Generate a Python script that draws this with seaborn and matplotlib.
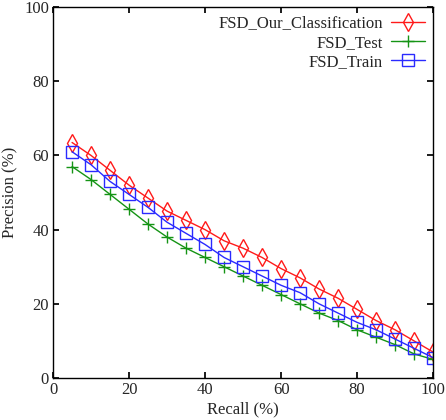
import matplotlib
matplotlib.use("Agg")
import matplotlib.pyplot as plt
import pandas as pd
import seaborn as sns

recall = [5, 10, 15, 20, 25, 30, 35, 40, 45, 50, 55, 60, 65, 70, 75, 80, 85, 90, 95, 100]
our_classification = [63.5, 60, 56, 52, 48.5, 45, 42.5, 40, 37, 35, 32.5, 29.5, 27, 24, 21.5, 18.5, 15.5, 13, 10, 7]
fsd_test = [57, 53.5, 49.5, 45.5, 41.5, 38, 35, 32.5, 30, 27.5, 25, 22.5, 20, 17.5, 15.5, 13, 11, 9, 6.5, 5]
fsd_train = [61, 57.5, 53, 49.5, 46, 42, 39, 36, 32.5, 30, 27.5, 25, 23, 20, 17.5, 15, 13, 10.5, 8, 5.5]

names = ["FSD_Our_Classification", "FSD_Test", "FSD_Train"]
colors = ["#ff1a1a", "#159415", "#2a2aff"]
markers = ["d", "+", "s"]
sizes = [9, 9, 8]

sns.set_theme(style="ticks")
plt.rcParams["font.family"] = ["Liberation Serif", "DejaVu Serif"]

fig = plt.figure(figsize=(4.46, 4.2), dpi=100)
ax = fig.add_axes([0.119, 0.1, 0.852, 0.883])
for name, vals, c, m, ms in zip(names, [our_classification, fsd_test, fsd_train], colors, markers, sizes):
    df = pd.DataFrame({"recall": recall, "precision": vals})
    sns.lineplot(
        data=df, x="recall", y="precision", ax=ax, color=c, marker=m,
        linewidth=1.0, markersize=ms, markerfacecolor="none",
        markeredgecolor=c, markeredgewidth=1.0, label=name,
    )

ax.set_xlim(0, 100)
ax.set_ylim(0, 100)
ax.set_xticks([0, 20, 40, 60, 80, 100])
ax.set_yticks([0, 20, 40, 60, 80, 100])
ax.tick_params(direction="in", top=True, right=True, labelsize=12, length=4, pad=3, color="black")
ax.set_xlabel("Recall (%)", fontsize=12, labelpad=2)
ax.set_ylabel("Precision (%)", fontsize=12, labelpad=4)
for s in ax.spines.values():
    s.set_linewidth(1.0)
    s.set_color("black")

ax.legend(loc="upper right", frameon=False, markerfirst=False,
          fontsize=12, handlelength=2.0, borderaxespad=0.1, labelspacing=0.2,
          handletextpad=0.5)

fig.savefig("out.png", dpi=100)
